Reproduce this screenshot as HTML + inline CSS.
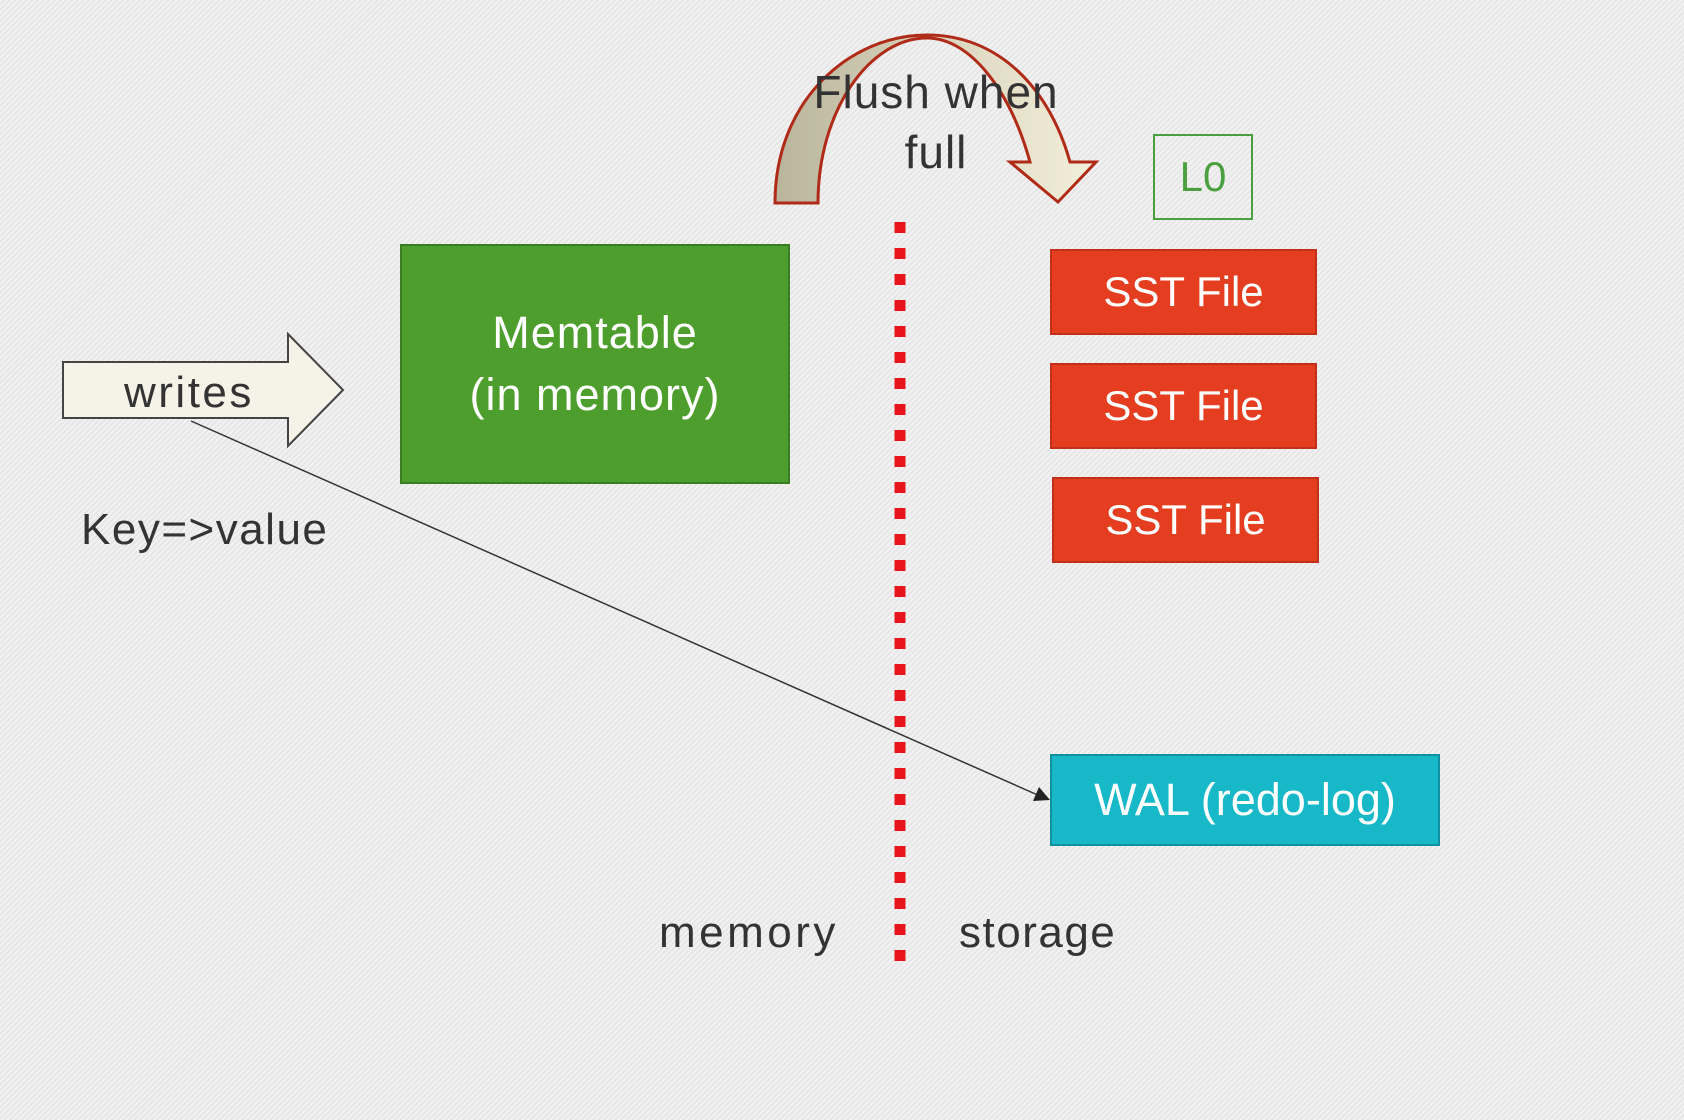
<!DOCTYPE html>
<html><head><meta charset="utf-8"><style>
body{margin:0;width:1684px;height:1120px;overflow:hidden;background:#ececec;
background-image:repeating-linear-gradient(135deg,#f2f2f2 0,#f2f2f2 2px,#e6e6e6 2px,#e6e6e6 4px);
font-family:"Liberation Sans",sans-serif;}
.box{position:absolute;display:flex;align-items:center;justify-content:center;color:#fff;text-align:center;box-sizing:border-box;}
.sst{background:#e53d20;border:2px solid #c0301a;font-size:42px;}
.t{position:absolute;color:#333;white-space:nowrap;}
</style></head><body>
<svg width="1684" height="1120" style="position:absolute;left:0;top:0">
<defs><linearGradient id="g" x1="0" x2="1" y1="0" y2="0">
<stop offset="0" stop-color="#b9b49c"/><stop offset="0.5" stop-color="#d9d4bd"/><stop offset="1" stop-color="#f4efda"/></linearGradient></defs>
<path d="M775,203 C775,100 850,35 927,35 C1000,35 1050,90 1070,162 L1096,162 L1058,202 L1010,162 L1030,162 C1010,90 970,38 927,38 C870,38 818,110 818,203 Z" fill="url(#g)" stroke="#b02a18" stroke-width="3"/>
<line x1="900" y1="222" x2="900" y2="967" stroke="#e8141c" stroke-width="11" stroke-dasharray="11,15"/>
<path d="M63,362 L288,362 L288,334 L343,390 L288,446 L288,418 L63,418 Z" fill="#f5f3e8" stroke="#444" stroke-width="2"/>
<line x1="191" y1="421" x2="1040" y2="796" stroke="#333" stroke-width="1.5"/>
<polygon points="1050,800 1033,801 1039,787" fill="#222"/>
</svg>
<div class="t" style="left:800px;top:62px;width:272px;text-align:center;font-size:46px;line-height:60px;letter-spacing:1px">Flush when<br>full</div>
<div class="box" style="left:1153px;top:134px;width:100px;height:86px;border:2px solid #4aa040;color:#4aa040;font-size:42px">L0</div>
<div class="box" style="left:400px;top:244px;width:390px;height:240px;background:#4e9e2e;border:2px solid #3a7d22;font-size:45px;line-height:62px;letter-spacing:1px">Memtable<br>(in memory)</div>
<div class="box sst" style="left:1050px;top:249px;width:267px;height:86px">SST File</div>
<div class="box sst" style="left:1050px;top:363px;width:267px;height:86px">SST File</div>
<div class="box sst" style="left:1052px;top:477px;width:267px;height:86px">SST File</div>
<div class="box" style="left:1050px;top:754px;width:390px;height:92px;background:#17b8c8;border:2px solid #1090a0;font-size:45px">WAL (redo-log)</div>
<div class="t" style="left:124px;top:368px;font-size:44px;letter-spacing:2.5px">writes</div>
<div class="t" style="left:81px;top:505px;font-size:44px;letter-spacing:1.5px">Key=&gt;value</div>
<div class="t" style="left:659px;top:908px;font-size:44px;letter-spacing:3.5px">memory</div>
<div class="t" style="left:959px;top:908px;font-size:44px;letter-spacing:1.5px">storage</div>
</body></html>
